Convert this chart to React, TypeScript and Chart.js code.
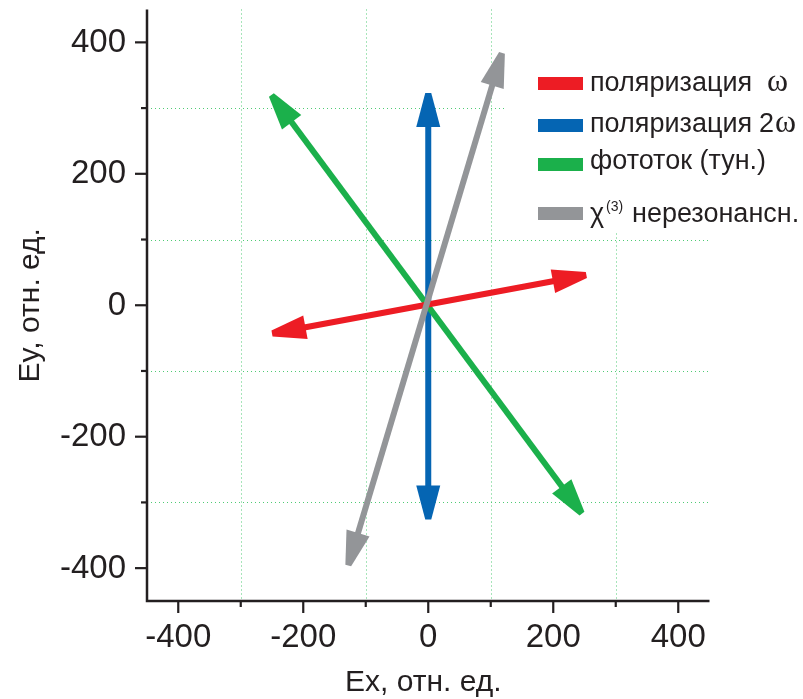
import React, { useEffect, useRef } from 'react';
import { Chart, registerables } from 'chart.js';

Chart.register(...registerables);

// ---- data ----
const seriesNames = ['поляризация', 'поляризация', 'фототок (тун.)', 'нерезонансн.'];
const seriesColors = ['#ed1c24', '#0565b3', '#1bb04b', '#939598'];
const redX = [-250, 253];
const redY = [-43, 46];
const blueX = [0, 0];
const blueY = [-326, 323];
const greenX = [-251, 246];
const greenY = [320, -317];
const grayX = [-128, 118];
const grayY = [-396, 384];
const tickValues = [-400, -200, 0, 200, 400];
const tickLabels = ['-400', '-200', '0', '200', '400'];
const minorValues = [-300, -100, 100, 300];
const axisMin = -450;
const axisMax = 450;
const xTitle = 'Ex, отн. ед.';
const yTitle = 'Ey, отн. ед.';

const INK = '#231f20';
const SANS = '"Liberation Sans", Arial, sans-serif';
const SERIF = '"Liberation Serif", "Times New Roman", serif';

function toPts(xs: number[], ys: number[]) {
  return xs.map((x, i) => ({ x, y: ys[i] }));
}

const arrowPlugin = {
  id: 'arrowPlugin',
  beforeDatasetsDraw(chart: any) {
    const ctx = chart.ctx as CanvasRenderingContext2D;
    const ca = chart.chartArea;
    const xs = chart.scales.x;
    const ys = chart.scales.y;
    ctx.save();
    ctx.strokeStyle = '#4fcb74';
    ctx.lineWidth = 1;
    ctx.setLineDash([1, 3]);
    minorValues.forEach((v) => {
      const px = Math.round(xs.getPixelForValue(v)) + 0.5;
      ctx.beginPath();
      ctx.moveTo(px, ca.top);
      ctx.lineTo(px, ca.bottom);
      ctx.stroke();
      const py = Math.round(ys.getPixelForValue(v)) + 0.5;
      ctx.beginPath();
      ctx.moveTo(ca.left, py);
      ctx.lineTo(ca.right, py);
      ctx.stroke();
    });
    ctx.setLineDash([]);
    // legend background
    ctx.fillStyle = '#ffffff';
    ctx.fillRect(506, 0, 297, 232);
    ctx.restore();
  },
  afterDatasetsDraw(chart: any) {
    const ctx = chart.ctx as CanvasRenderingContext2D;
    const order = [1, 2, 0, 3];
    const headLen = 34;
    const baseHalf = 12;
    const tipHalf = 3;
    const shaft = 6;
    ctx.save();
    order.forEach((di) => {
      const meta = chart.getDatasetMeta(di);
      const p0 = meta.data[0];
      const p1 = meta.data[1];
      const dx = p1.x - p0.x;
      const dy = p1.y - p0.y;
      const L = Math.hypot(dx, dy);
      const ux = dx / L;
      const uy = dy / L;
      const nx = -uy;
      const ny = ux;
      const color = seriesColors[di];
      ctx.strokeStyle = color;
      ctx.fillStyle = color;
      ctx.lineWidth = shaft;
      ctx.lineCap = 'butt';
      ctx.beginPath();
      ctx.moveTo(p0.x + ux * (headLen - 4), p0.y + uy * (headLen - 4));
      ctx.lineTo(p1.x - ux * (headLen - 4), p1.y - uy * (headLen - 4));
      ctx.stroke();
      const head = (tx: number, ty: number, dirx: number, diry: number) => {
        const bx = tx - dirx * headLen;
        const by = ty - diry * headLen;
        ctx.beginPath();
        ctx.moveTo(tx + nx * tipHalf, ty + ny * tipHalf);
        ctx.lineTo(tx - nx * tipHalf, ty - ny * tipHalf);
        ctx.lineTo(bx - nx * baseHalf, by - ny * baseHalf);
        ctx.lineTo(bx + nx * baseHalf, by + ny * baseHalf);
        ctx.closePath();
        ctx.fill();
      };
      head(p1.x, p1.y, ux, uy);
      head(p0.x, p0.y, -ux, -uy);
    });
    ctx.restore();
  },
  afterDraw(chart: any) {
    const ctx = chart.ctx as CanvasRenderingContext2D;
    const ca = chart.chartArea;
    const xs = chart.scales.x;
    const ys = chart.scales.y;
    ctx.save();
    // axis lines
    ctx.strokeStyle = INK;
    ctx.lineWidth = 2.5;
    ctx.lineCap = 'butt';
    ctx.beginPath();
    ctx.moveTo(ca.left, ca.top);
    ctx.lineTo(ca.left, ca.bottom);
    ctx.lineTo(ca.right, ca.bottom);
    ctx.stroke();
    // ticks
    ctx.lineWidth = 2.2;
    const drawTicks = (vals: number[], len: number) => {
      vals.forEach((v) => {
        const px = xs.getPixelForValue(v);
        ctx.beginPath();
        ctx.moveTo(px, ca.bottom);
        ctx.lineTo(px, ca.bottom + len);
        ctx.stroke();
        const py = ys.getPixelForValue(v);
        ctx.beginPath();
        ctx.moveTo(ca.left, py);
        ctx.lineTo(ca.left - len, py);
        ctx.stroke();
      });
    };
    drawTicks(tickValues, 12);
    drawTicks(minorValues, 6);
    // tick labels
    ctx.fillStyle = INK;
    ctx.font = `33px ${SANS}`;
    ctx.textBaseline = 'alphabetic';
    tickValues.forEach((v, i) => {
      const px = xs.getPixelForValue(v);
      ctx.textAlign = 'center';
      ctx.fillText(tickLabels[i], px, ca.bottom + 46);
      const py = ys.getPixelForValue(v);
      ctx.textAlign = 'right';
      ctx.fillText(tickLabels[i], ca.left - 21, py + 9.5);
    });
    // axis titles
    ctx.font = `30px ${SANS}`;
    ctx.textAlign = 'center';
    ctx.fillText(xTitle, (ca.left + ca.right) / 2 - 5, 691);
    ctx.save();
    ctx.translate(39, (ca.top + ca.bottom) / 2);
    ctx.rotate(-Math.PI / 2);
    ctx.fillText(yTitle, 0, 0);
    ctx.restore();
    // legend
    const swTops = [77, 119, 158, 207];
    const baselines = [91, 132, 169, 222];
    seriesColors.forEach((c, i) => {
      ctx.fillStyle = c;
      ctx.fillRect(538, swTops[i], 45, 13);
    });
    ctx.fillStyle = INK;
    ctx.textAlign = 'left';
    ctx.font = `27px ${SANS}`;
    ctx.fillText(seriesNames[0], 590, baselines[0]);
    ctx.fillText(seriesNames[1], 590, baselines[1]);
    ctx.fillText('2', 759, baselines[1]);
    ctx.fillText(seriesNames[2], 590, baselines[2]);
    ctx.fillText('χ', 590, baselines[3]);
    ctx.fillText(seriesNames[3], 632, baselines[3]);
    ctx.font = `14px ${SANS}`;
    ctx.fillText('(3)', 606, baselines[3] - 11);
    ctx.font = `32px ${SERIF}`;
    ctx.fillText('ω', 767, baselines[0]);
    ctx.fillText('ω', 775, baselines[1]);
    ctx.restore();
  },
};

export default function App() {
  const ref = useRef<HTMLCanvasElement | null>(null);
  useEffect(() => {
    if (!ref.current) return;
    const chart = new Chart(ref.current, {
      type: 'scatter',
      data: {
        datasets: [
          { label: 'ω', data: toPts(redX, redY), borderColor: seriesColors[0], backgroundColor: seriesColors[0] },
          { label: '2ω', data: toPts(blueX, blueY), borderColor: seriesColors[1], backgroundColor: seriesColors[1] },
          { label: 'фототок', data: toPts(greenX, greenY), borderColor: seriesColors[2], backgroundColor: seriesColors[2] },
          { label: 'χ3', data: toPts(grayX, grayY), borderColor: seriesColors[3], backgroundColor: seriesColors[3] },
        ].map((d) => ({ ...d, showLine: false, pointRadius: 0, pointHoverRadius: 0 })),
      },
      options: {
        animation: false,
        responsive: false,
        events: [],
        layout: { padding: { left: 147, top: 9.5, right: 93.5, bottom: 98 } },
        plugins: { legend: { display: false }, tooltip: { enabled: false } },
        scales: {
          x: { type: 'linear', min: axisMin, max: axisMax, display: false },
          y: { type: 'linear', min: axisMin, max: axisMax, display: false },
        },
      },
      plugins: [arrowPlugin],
    });
    return () => chart.destroy();
  }, []);
  return (
    <div style={{ position: 'absolute', left: 0, top: 0, width: 803, height: 699, background: '#fff' }}>
      <canvas ref={ref} width={803} height={699} />
    </div>
  );
}
